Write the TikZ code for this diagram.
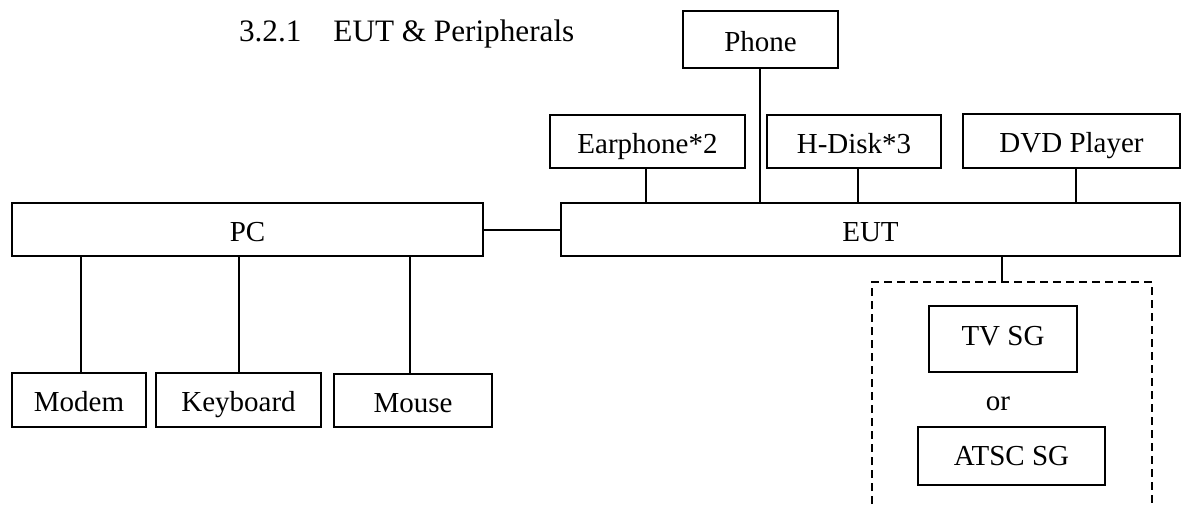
\documentclass[tikz,border=0pt]{standalone}
\usepackage{fontspec}
\setmainfont{Liberation Serif}

\begin{document}
\begin{tikzpicture}[
            x=0.5pt, y=-0.5pt,
            every node/.style={font=\fontsize{14.5}{16}\selectfont},
            box/.style={draw, line width=0.9pt, inner sep=0pt, minimum height=26.5pt,
                        text height=11.5pt, text depth=0pt},
            link/.style={draw, line width=0.9pt},
            sgframe/.style={draw, line width=0.8pt, dash pattern=on 4pt off 2.5pt}
          ]
            \useasboundingbox (0,0) rectangle (1181,504);
            \node[anchor=base west, font=\fontsize{15.6}{17}\selectfont] (title) at (232,41) {3.2.1\hspace{16pt}EUT \& Peripherals};
            \node[box, minimum width=77.5pt, minimum height=28.5pt] (phone) at (760.5,39.5) {Phone};
            \node[box, minimum width=97.5pt] (earphone) at (647.5,141.5) {Earphone*2};
            \node[box, minimum width=87pt] (hdisk) at (854,141.5) {H-Disk*3};
            \node[box, minimum width=108.5pt, minimum height=27pt] (dvd) at (1071.5,141) {DVD Player};
            \node[box, minimum width=235.5pt] (pc) at (247.5,229.5) {PC};
            \node[box, minimum width=309.5pt] (eut) at (870.5,229.5) {EUT};
            \node[box, minimum width=67pt, minimum height=27pt] (modem) at (79,400) {Modem};
            \node[box, minimum width=82.5pt, minimum height=27pt] (keyboard) at (238.5,400) {Keyboard};
            \node[box, minimum width=79pt] (mouse) at (413,400.5) {Mouse};
            \node[box, minimum width=74pt, minimum height=33pt, text height=6pt] (tvsg) at (1003,339) {TV SG};
            \node[anchor=base] (or) at (998,410) {or};
            \node[box, minimum width=93.5pt, minimum height=29pt, text height=9pt] (atscsg) at (1011.5,456) {ATSC SG};
            \coordinate (sgtop) at (1002,282);
            \coordinate (sgleft) at (872,504);
            \coordinate (sgright) at (1152,504);

            \draw[link] ([yshift=-0.25pt]pc.east) -- ([yshift=-0.25pt]pc.east -| eut.west);
            \draw[link] ([xshift=-0.25pt]phone.south) -- ([xshift=-0.25pt]phone.south |- eut.north);
            \draw[link] ([xshift=-0.75pt]earphone.south) -- ([xshift=-0.75pt]earphone.south |- eut.north);
            \draw[link] ([xshift=2pt]hdisk.south) -- ([xshift=2pt]hdisk.south |- eut.north);
            \draw[link] ([xshift=2.25pt]dvd.south) -- ([xshift=2.25pt]dvd.south |- eut.north);
            \draw[link] ([xshift=1pt]modem.north) -- ([xshift=1pt]modem.north |- pc.south);
            \draw[link] ([xshift=0.25pt]keyboard.north) -- ([xshift=0.25pt]keyboard.north |- pc.south);
            \draw[link] ([xshift=-1.5pt]mouse.north) -- ([xshift=-1.5pt]mouse.north |- pc.south);
            \draw[link] (eut.south -| sgtop) -- (sgtop);
            \draw[sgframe] (sgleft) |- (sgtop) -| (sgright);
          \end{tikzpicture}
\end{document}
